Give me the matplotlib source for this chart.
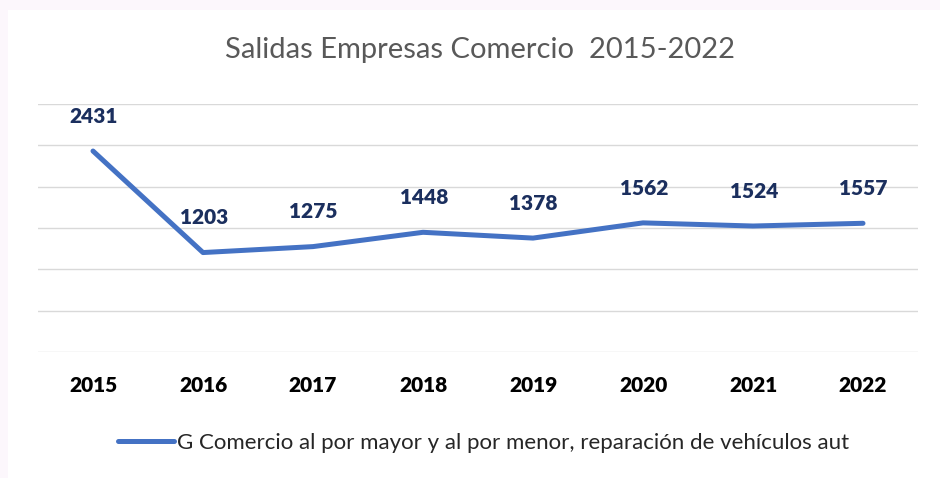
import matplotlib.pyplot as plt
from matplotlib.lines import Line2D
from matplotlib.patches import Rectangle

years = ['2015', '2016', '2017', '2018', '2019', '2020', '2021', '2022']
salidas = [2431, 1203, 1275, 1448, 1378, 1562, 1524, 1557]
serie = 'G Comercio al por mayor y al por menor, reparación de vehículos aut'

plt.rcParams['font.family'] = ['Lato', 'DejaVu Sans']

fig = plt.figure(figsize=(9.4, 4.78), dpi=100, facecolor='#fcf7fc')
# white chart area
fig.patches.append(Rectangle((8 / 940, 0), 1, 1 - 10 / 478, transform=fig.transFigure,
                             facecolor='white', edgecolor='none', zorder=-5))

ax = fig.add_axes([38 / 940, 126 / 478, 880 / 940, 248 / 478])
ax.patch.set_alpha(0)
x = range(len(years))
ax.plot(x, salidas, color='#4472C4', linewidth=3.6, solid_capstyle='round', zorder=3)

for xi, v in zip(x, salidas):
    ax.annotate(str(v), (xi, v), xytext=(0.5, 25), textcoords='offset points',
                ha='center', va='center', fontsize=15, fontweight='heavy', color='#1b2f5e')

ax.set_xlim(-0.5, len(years) - 0.5)
ax.set_ylim(0, 3000)
ax.set_yticks(range(0, 3001, 500))
ax.yaxis.grid(True, color='#d9d9d9', linewidth=1)
ax.set_axisbelow(True)
ax.tick_params(axis='y', left=False, labelleft=False)
ax.set_xticks(list(x))
ax.set_xticklabels(years, fontsize=15, fontweight='heavy', color='black')
ax.tick_params(axis='x', length=0, pad=17.5)
for s in ax.spines.values():
    s.set_visible(False)

fig.text(480 / 940, 1 - 50 / 478, 'Salidas Empresas Comercio  2015-2022',
         ha='center', va='center', fontsize=21, color='#595959')

handle = Line2D([], [], color='#4472C4', linewidth=3.6, solid_capstyle='round')
fig.legend([handle], [serie], loc='center', bbox_to_anchor=(484 / 940, 1 - 443 / 478),
           frameon=False, fontsize=16, handlelength=2.5, handletextpad=0.15,
           labelcolor='#262626')

fig.savefig('out.png', dpi=100, facecolor=fig.get_facecolor())
